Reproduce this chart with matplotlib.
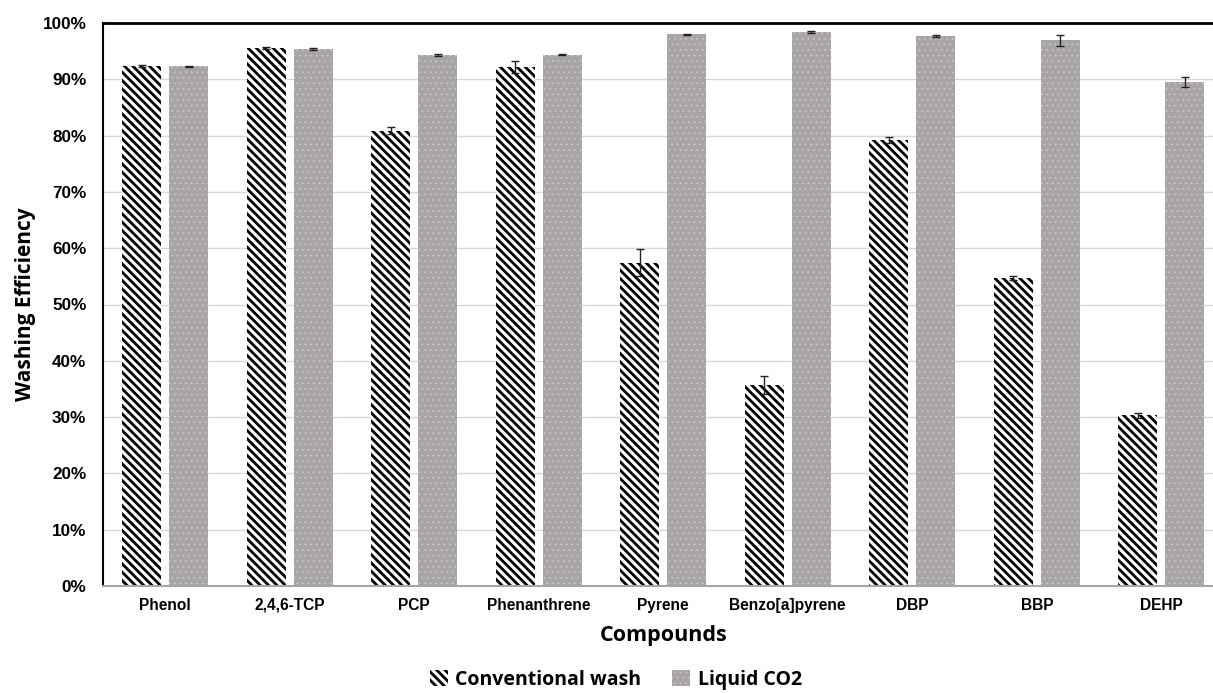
import matplotlib

matplotlib.use("Agg")
import matplotlib.pyplot as plt
import numpy as np
from matplotlib.patches import Patch
from matplotlib.ticker import FuncFormatter, MultipleLocator

compounds = ["Phenol", "2,4,6-TCP", "PCP", "Phenanthrene", "Pyrene",
             "Benzo[a]pyrene", "DBP", "BBP", "DEHP"]
conventional = [92.4, 95.5, 80.9, 92.2, 57.4, 35.7, 79.2, 54.7, 30.3]
conventional_err = [0.2, 0.2, 0.6, 1.0, 2.4, 1.6, 0.6, 0.4, 0.4]
liquid_co2 = [92.3, 95.4, 94.3, 94.4, 98.0, 98.4, 97.7, 96.9, 89.5]
liquid_co2_err = [0.15, 0.15, 0.15, 0.15, 0.1, 0.1, 0.1, 1.05, 0.85]

fig = plt.figure(figsize=(12.13, 6.93), dpi=100)
ax = fig.add_axes([103 / 1213, 107 / 693, 1120.5 / 1213, 563 / 693])

x = np.arange(len(compounds))
width = 0.313
offset = 0.189
gray = "#a9a5a5"
dots = "#d6d3d3"


def thin_hatch(patches, lw):
    for p in patches:
        if hasattr(p, "set_hatch_linewidth"):
            p.set_hatch_linewidth(lw)


with plt.rc_context({"hatch.linewidth": 2.0}):
    conv_bars = ax.bar(x - offset, conventional, width, color="white", edgecolor="black",
                       linewidth=0, hatch="\\\\\\\\", zorder=2)
with plt.rc_context({"hatch.linewidth": 0.3}):
    liq_bars = ax.bar(x + offset, liquid_co2, width, color=gray, edgecolor=dots,
                      linewidth=0, hatch="...", zorder=2)
thin_hatch(conv_bars, 2.0)
thin_hatch(liq_bars, 0.3)

ax.errorbar(x - offset, conventional, yerr=conventional_err, fmt="none",
            ecolor="#222222", elinewidth=1, capsize=3, capthick=1, zorder=3)
ax.errorbar(x + offset, liquid_co2, yerr=liquid_co2_err, fmt="none",
            ecolor="#222222", elinewidth=1, capsize=3, capthick=1, zorder=3)

ax.set_xlim(-0.5, len(compounds) - 0.5)
ax.set_ylim(0, 100)
ax.yaxis.set_major_locator(MultipleLocator(10))
ax.yaxis.set_major_formatter(FuncFormatter(lambda v, p: f"{v:.0f}%"))
ax.grid(axis="y", color="#d9d9d9", linewidth=1, zorder=0)
ax.set_axisbelow(True)

ax.set_xticks(x)
ax.set_xticklabels(compounds, family="Liberation Sans", fontweight="bold", fontsize=11.2,
                   va="baseline")
for lab in ax.get_yticklabels():
    lab.set_family("Liberation Sans")
    lab.set_fontweight("bold")
    lab.set_fontsize(12.3)
ax.tick_params(axis="both", length=0)
ax.tick_params(axis="x", pad=17)
ax.tick_params(axis="y", pad=12)

ax.spines["right"].set_visible(False)
ax.spines["top"].set_color("black")
ax.spines["top"].set_linewidth(2)
ax.spines["left"].set_color("black")
ax.spines["left"].set_linewidth(1.5)
ax.spines["bottom"].set_color("#a6a6a6")
ax.spines["bottom"].set_linewidth(1.5)

ax.set_xlabel("Compounds", family="Open Sans", fontweight="bold", fontsize=15.5, labelpad=9)
ax.set_ylabel("Washing Efficiency", family="Open Sans", fontweight="bold", fontsize=15, labelpad=5)

with plt.rc_context({"hatch.linewidth": 2.0}):
    h1 = Patch(facecolor="white", edgecolor="black", linewidth=0, hatch="\\\\\\\\")
with plt.rc_context({"hatch.linewidth": 0.3}):
    h2 = Patch(facecolor=gray, edgecolor=dots, linewidth=0, hatch="...")
leg = fig.legend([h1, h2], ["Conventional wash", "Liquid CO2"], loc="center",
                 bbox_to_anchor=(616 / 1213, 1 - 680 / 693), ncol=2, frameon=False,
                 prop={"family": "Open Sans", "weight": "bold", "size": 14},
                 handlelength=0.9, handleheight=0.9, handletextpad=0.4, columnspacing=1.6)
thin_hatch([leg.legend_handles[0]], 2.0)
thin_hatch([leg.legend_handles[1]], 0.3)

fig.savefig("out.png", dpi=100)
